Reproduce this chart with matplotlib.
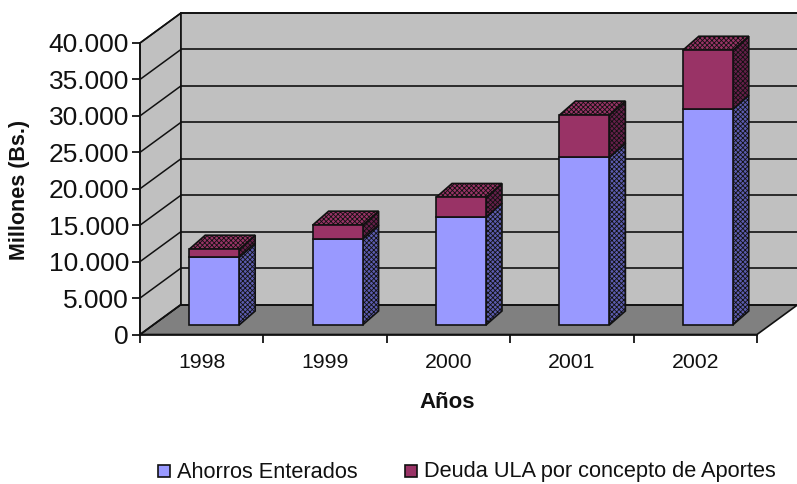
import matplotlib
matplotlib.use("Agg")
import matplotlib.pyplot as plt
from matplotlib.patches import Polygon
from matplotlib.transforms import Affine2D

plt.rcParams['font.family'] = ['Liberation Sans', 'DejaVu Sans']
plt.rcParams['hatch.linewidth'] = 0.6

years = ['1998', '1999', '2000', '2001', '2002']
ahorros = [9300, 11800, 14800, 23000, 29600]
deuda = [1100, 1900, 2700, 5800, 8100]
y_ticks = [0, 5000, 10000, 15000, 20000, 25000, 30000, 35000, 40000]
y_labels = ['0', '5.000', '10.000', '15.000', '20.000', '25.000', '30.000', '35.000', '40.000']

fig = plt.figure(figsize=(7.97, 4.84), dpi=100)
ax = fig.add_axes([140 / 797, 1 - 334.5 / 484, 617 / 797, 291.5 / 484])
ax.set_xlim(0, 5)
ax.set_ylim(0, 40000)

# fake 3D: everything is the data transform shifted by some pixels
back = ax.transData + Affine2D().translate(41, 30)
bar_front = ax.transData + Affine2D().translate(12.5, 9.5)
bar_back = bar_front + Affine2D().translate(16, 14)


def poly(points, trans, face, hatch=None, z=1):
    # each corner has its own transform, it can sit on the front or the back plane
    disp = [t.transform(p) for p, t in zip(points, trans)]
    inv = ax.transData.inverted()
    p = Polygon(inv.transform(disp), closed=True, facecolor=face, edgecolor='#111111',
                linewidth=1.2, hatch=hatch, zorder=z, clip_on=False)
    ax.add_patch(p)


d = ax.transData
# walls and floor
poly([(0, 0), (5, 0), (5, 0), (0, 0)], [d, d, back, back], '#808080', z=1)
poly([(0, 0), (0, 40000), (0, 40000), (0, 0)], [d, d, back, back], '#c0c0c0', z=1)
poly([(0, 0), (5, 0), (5, 40000), (0, 40000)], [back] * 4, '#c0c0c0', z=1)

# gridlines
for v in y_ticks:
    ax.plot([0, 5], [v, v], transform=back, color='#111111', lw=1.2, zorder=2, clip_on=False)
    a = d.transform((0, v))
    b = back.transform((0, v))
    xs, ys = zip(*ax.transData.inverted().transform([a, b]))
    ax.plot(xs, ys, color='#111111', lw=1.1, zorder=2, clip_on=False)

# bars
width = 0.405
for i in range(len(years)):
    x0 = i + 0.5 - width / 2
    x1 = i + 0.5 + width / 2
    blue = ahorros[i]
    total = ahorros[i] + deuda[i]
    ax.bar(i + 0.5, blue, width, color='#9999ff', edgecolor='#111111', linewidth=1.2,
           transform=bar_front, zorder=5, clip_on=False)
    ax.bar(i + 0.5, deuda[i], width, bottom=blue, color='#993366', edgecolor='#111111',
           linewidth=1.2, transform=bar_front, zorder=5, clip_on=False)
    poly([(x1, 0), (x1, blue), (x1, blue), (x1, 0)], [bar_front, bar_front, bar_back, bar_back],
         '#5c5cb0', hatch='xxxxxxx', z=4)
    poly([(x1, blue), (x1, total), (x1, total), (x1, blue)], [bar_front, bar_front, bar_back, bar_back],
         '#661f4a', hatch='xxxxxxx', z=4)
    poly([(x0, total), (x1, total), (x1, total), (x0, total)], [bar_front, bar_front, bar_back, bar_back],
         '#993366', hatch='xxxxxxx', z=4)

for s in ['top', 'right']:
    ax.spines[s].set_visible(False)
for s in ['left', 'bottom']:
    ax.spines[s].set_linewidth(1.2)
    ax.spines[s].set_color('#111111')
    ax.spines[s].set_zorder(6)

ax.set_yticks(y_ticks, y_labels, fontsize=19, color='#111111')
ax.tick_params(axis='y', length=6, width=1.2, pad=2)
ax.set_xticks(range(6), [''] * 6)
ax.set_xticks([i + 0.5 for i in range(5)], years, minor=True, fontsize=15.3, color='#111111')
ax.tick_params(axis='x', which='major', length=6, width=1.2)
ax.tick_params(axis='x', which='minor', length=0, pad=13)

fig.text(20 / 797, 1 - 190 / 484, 'Millones (Bs.)', rotation=90, ha='center', va='center',
         fontsize=15.5, fontweight='bold', color='#111111')
fig.text(447 / 797, 1 - 403 / 484, 'Años', ha='center', va='center',
         fontsize=16, fontweight='bold', color='#111111')

leg_items = [(158, 'Ahorros Enterados', '#9999ff'), (405, 'Deuda ULA por concepto de Aportes', '#993366')]
for x, label, col in leg_items:
    fig.patches.append(plt.Rectangle((x / 797, 1 - 477 / 484), 12 / 797, 12 / 484, transform=fig.transFigure,
                                     facecolor=col, edgecolor='#111111', linewidth=1.2))
    fig.text((x + 19) / 797, 1 - 472 / 484, label, ha='left', va='center', fontsize=15.7, color='#111111')

fig.savefig('out.png', dpi=100)
